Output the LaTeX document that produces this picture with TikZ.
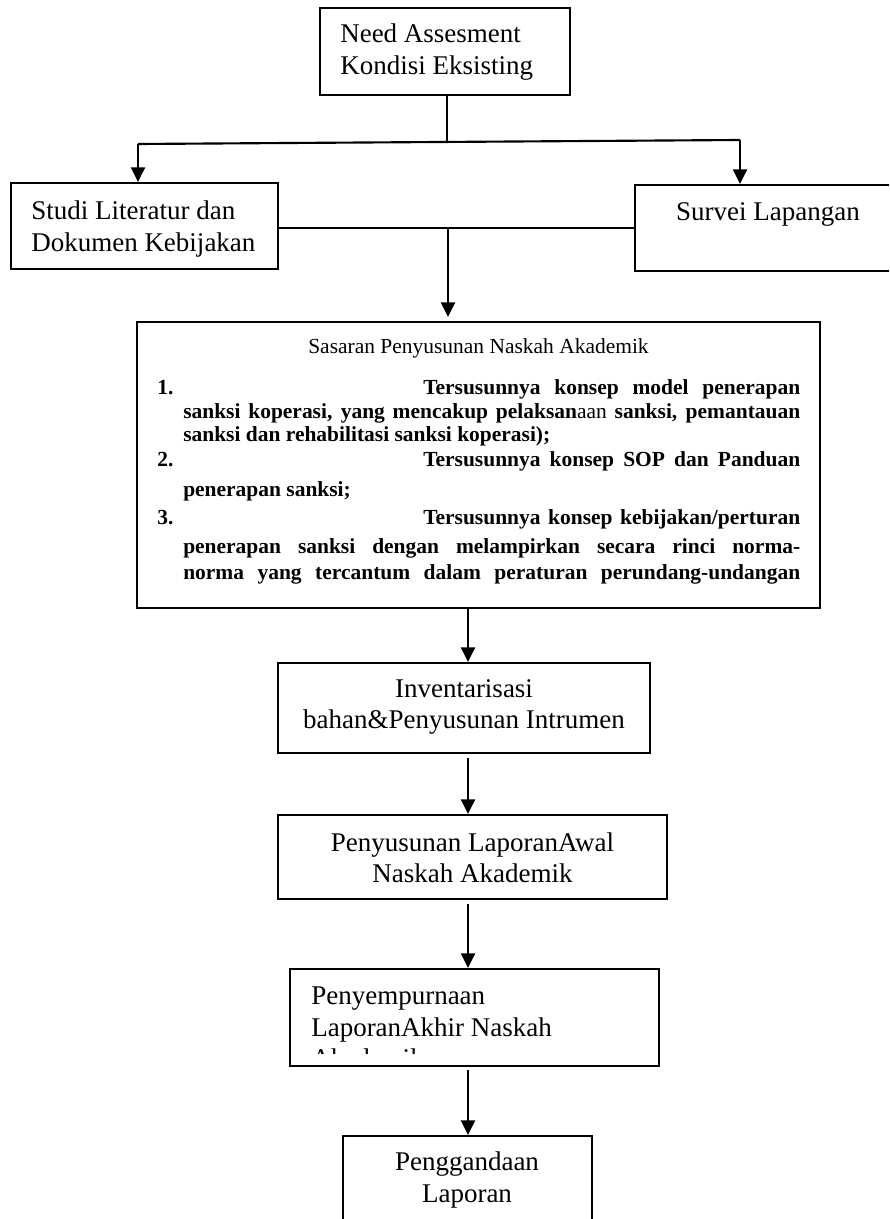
\documentclass[tikz,border=0pt]{standalone}
\usepackage{fontspec}
\setmainfont{Liberation Serif}
\usetikzlibrary{arrows.meta,fit}
\newcommand\bigfnt{\fontsize{20.25pt}{23.5pt}\selectfont}
\newcommand\smfnt{\fontsize{16.1pt}{18pt}\selectfont}
\begin{document}
\begin{tikzpicture}[x=0.75pt,y=-0.75pt,
  box/.style={draw,line width=1.5pt,inner sep=0pt},
  txt/.style={inner sep=0pt,font=\bigfnt},
  sm/.style={inner sep=0pt,font=\smfnt},
  smb/.style={inner sep=0pt,font=\smfnt\bfseries},
  ln/.style={line width=1.6pt},
  arr/.style={line width=1.8pt,-{Triangle[width=10.5pt,length=11pt]}}]
\useasboundingbox (0,0) rectangle (889,1219);
\fill[white] (0,0) rectangle (889,1219);
\clip (0,0) rectangle (889,1219);

% boxes
\node[box,fit={(320,8)(570,95)}] (need) {};
\node[box,fit={(11,183)(278,269)}] (studi) {};
\node[box,fit={(635,185)(905,271)}] (survei) {};
\node[box,fit={(137,322)(820,608)}] (sasaran) {};
\node[box,fit={(278,663)(650,753)}] (inv) {};
\node[box,fit={(278,815)(667,899)}] (lapawal) {};
\node[box,fit={(290,969)(659,1066)}] (lapakhir) {};
\node[box,fit={(343,1136)(592,1240)}] (gand) {};

% texts in boxes
\node[txt,anchor=west,align=left] (needt) at (340,52) {Need Assesment\\Kondisi Eksisting};
\node[txt,anchor=west,align=left] (studit) at (31,229) {Studi Literatur dan\\Dokumen Kebijakan};
\node[txt,anchor=base] (survt) at (768,221) {Survei Lapangan};
\node[txt,align=center] (invt) at (464,707) {Inventarisasi\\bahan\&Penyusunan Intrumen};
\node[txt,align=center] (lapawalt) at (472.5,858) {Penyusunan LaporanAwal\\Naskah Akademik};
\begin{scope}
  \clip (290,969) rectangle (659,1053);
  \node[txt,anchor=north west,align=left] (lapakhirt) at (311,987) {Penyempurnaan\\LaporanAkhir Naskah\\Akademik};
\end{scope}
\node[txt,align=center] (gandt) at (467,1180) {Penggandaan\\Laporan};

% big box content
\node[sm,anchor=base] (title) at (478.5,353) {Sasaran Penyusunan Naskah Akademik};
\node[smb,anchor=base west] (n1) at (157,394) {1.};
\node[smb,anchor=base west] (l1a) at (423,394) {\makebox[282.75pt][s]{Tersusunnya konsep model penerapan}};
\node[smb,anchor=base west] (l1b) at (183,418) {\makebox[462.75pt][s]{sanksi koperasi, yang mencakup pelaksan\textmd{aan} sanksi, pemantauan}};
\node[smb,anchor=base west] (l1c) at (183,441) {sanksi dan rehabilitasi sanksi koperasi);};
\node[smb,anchor=base west] (n2) at (157,466) {2.};
\node[smb,anchor=base west] (l2a) at (423,466) {\makebox[282.75pt][s]{Tersusunnya konsep SOP dan Panduan}};
\node[smb,anchor=base west] (l2b) at (183,496) {penerapan sanksi;};
\node[smb,anchor=base west] (n3) at (157,524) {3.};
\node[smb,anchor=base west] (l3a) at (423,524) {\makebox[282.75pt][s]{Tersusunnya konsep kebijakan/perturan}};
\node[smb,anchor=base west] (l3b) at (183,553) {\makebox[462.75pt][s]{penerapan sanksi dengan melampirkan secara rinci norma-}};
\node[smb,anchor=base west] (l3c) at (183,579) {\makebox[462.75pt][s]{norma yang tercantum dalam peraturan perundang-undangan}};

% connectors
\coordinate (jt) at (447,142);
\coordinate (hl) at (138,144);
\coordinate (hr) at (740,140);
\coordinate (jm) at (448,228);
\coordinate (ax) at (468,0);
\draw[ln] (need.south -| jt) -- (jt);
\draw[ln] (hl) -- (hr);
\draw[arr] (hl) -- (hl |- studi.north);
\draw[arr] (hr) -- (hr |- survei.north);
\draw[ln] (studi.east |- jm) -- (survei.west |- jm);
\draw[arr] (jm) -- ([yshift=3pt]jm |- sasaran.north);
\draw[arr] (ax |- sasaran.south) -- (ax |- inv.north);
\draw[arr,shorten <=3pt] (ax |- inv.south) -- (ax |- lapawal.north);
\draw[arr,shorten <=3pt] (ax |- lapawal.south) -- (ax |- lapakhir.north);
\draw[arr,shorten <=2pt] (ax |- lapakhir.south) -- (ax |- gand.north);
\end{tikzpicture}
\end{document}
